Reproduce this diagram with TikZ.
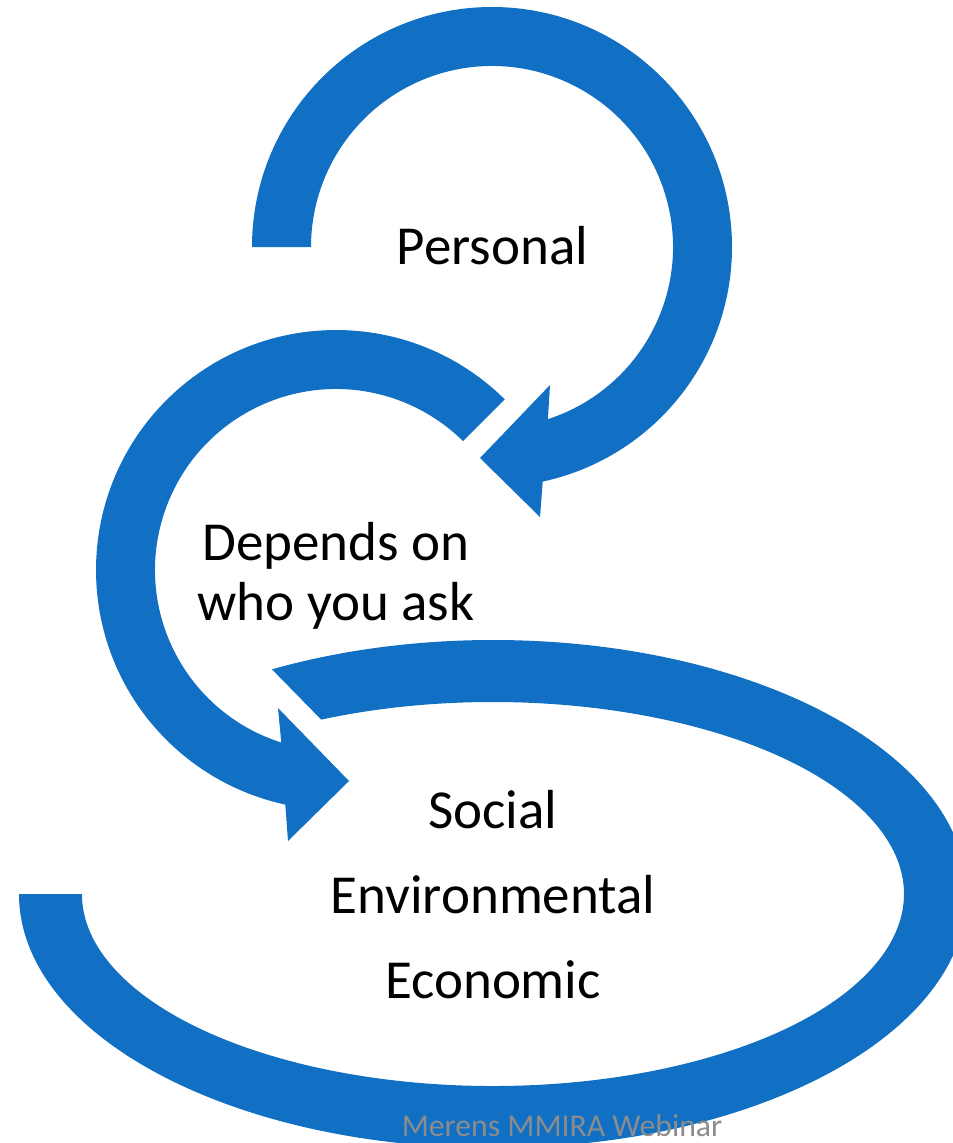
\documentclass[tikz,border=0pt]{standalone}
\usepackage{fontspec}
\setmainfont{Carlito}
\usetikzlibrary{calc}
\definecolor{arcblue}{RGB}{17,112,196}
\definecolor{notegray}{RGB}{140,140,140}
\begin{document}
\begin{tikzpicture}[x=0.75pt,y=-0.75pt,
  band/.style={fill=arcblue,draw=none},
  lbl/.style={inner sep=0pt,anchor=base,font=\fontsize{41.25}{49.5}\selectfont},
  note/.style={inner sep=0pt,anchor=base,text=notegray,font=\fontsize{23.8}{28}\selectfont}]
\useasboundingbox (0,0) rectangle (953,1143);
\clip (0,0) rectangle (953,1143);
\coordinate (c1) at (492,247);
\coordinate (c2) at (336,570);
\coordinate (c3) at (493,894);
% top circular arrow
\fill[band] ($(c1)+(180:240)$) arc[start angle=180,end angle=437.8,radius=240]
  -- (540,517) -- (480,458) -- (550,385)
  -- ($(c1)+(432:181)$) arc[start angle=432,end angle=180,radius=181] -- cycle;
% middle circular arrow
\fill[band] ($(c2)+(-45.3:240)$) arc[start angle=-45.3,end angle=-257.8,radius=240]
  -- (288,841) -- (349,781) -- (278,708)
  -- ($(c2)+(-252.4:181)$) arc[start angle=-252.4,end angle=-45.4,radius=181] -- cycle;
% bottom elliptical band
\fill[band] ($(c3)+(-474,0)$) arc[start angle=180,end angle=-117.8,x radius=474,y radius=254]
  -- (321.2,719.6) arc[start angle=-114.7,end angle=180,x radius=411,y radius=192] -- cycle;
% labels
\node[lbl] (personal) at (492.5,264) {Personal};
\node[lbl] (depends) at (336,560) {Depends on};
\node[lbl] (who) at (336,620) {who you ask};
\node[lbl] (social) at (493,828) {Social};
\node[lbl] (environmental) at (493,913) {Environmental};
\node[lbl] (economic) at (493,998) {Economic};
\node[note] (credit) at (562,1136.5) {Merens MMIRA Webinar};
\end{tikzpicture}
\end{document}
